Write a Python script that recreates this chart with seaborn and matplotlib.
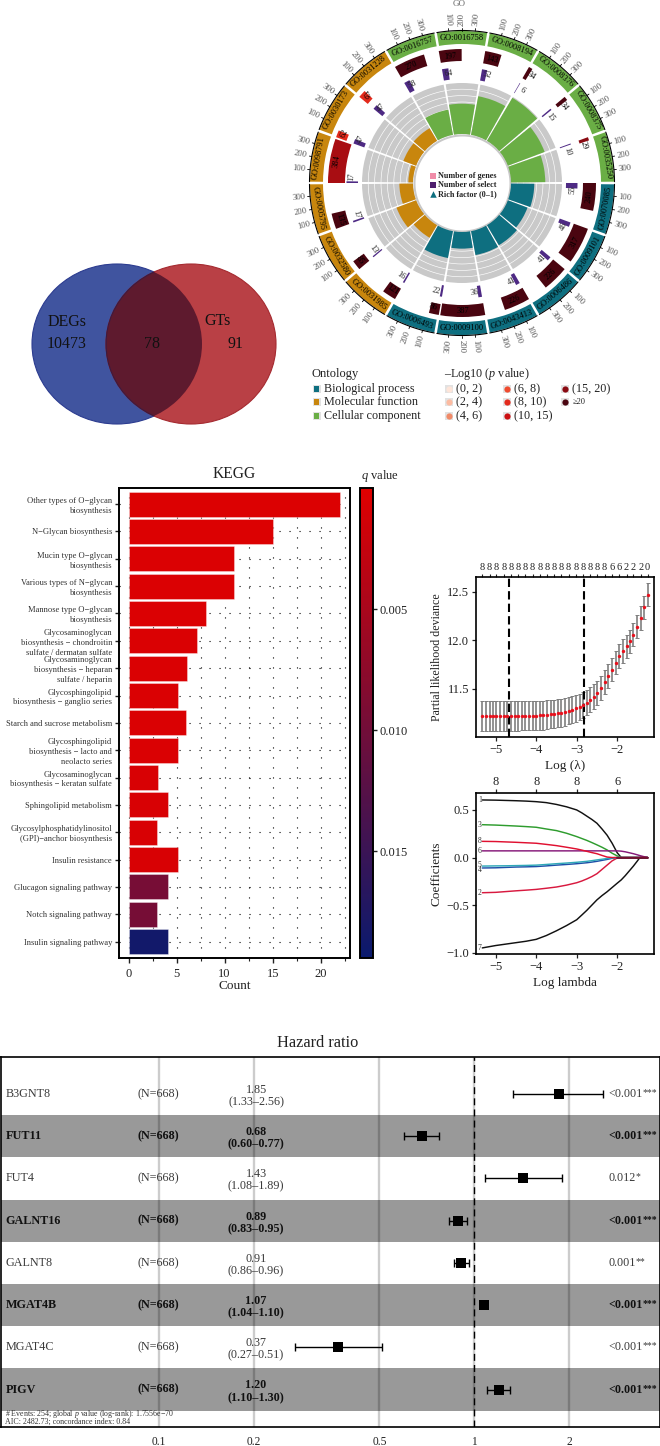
import numpy as np
import pandas as pd
import matplotlib
matplotlib.use("Agg")
import matplotlib.pyplot as plt
import seaborn as sns
from matplotlib.cm import ScalarMappable
from matplotlib.colors import LinearSegmentedColormap, Normalize
from matplotlib.patches import Ellipse, Rectangle
from matplotlib.ticker import NullLocator

W, H = 660, 1446

# circular GO plot, clockwise from the sector left of the top
go_terms = ["GO:0016757", "GO:0016758", "GO:0008194", "GO:0008376", "GO:0008375", "GO:0035250",
            "GO:0070085", "GO:0009101", "GO:0006486", "GO:0043413", "GO:0009100", "GO:0006493",
            "GO:0031985", "GO:0032580", "GO:0005795", "GO:0098791", "GO:0030173", "GO:0031228"]
go_group = ["CC"] * 6 + ["BP"] * 6 + ["MF"] * 6
go_genes = [270, 197, 143, 34, 34, 29, 240, 317, 226, 226, 387, 86, 121, 85, 135, 384, 62, 67]
go_select = [58, 64, 52, 6, 15, 10, 55, 46, 41, 41, 36, 22, 16, 13, 17, 17, 47, 47]
go_rich = [77, 91, 118, 150, 118, 103, 70, 63, 70, 73, 50, 82, 44, 63, 41, 14, 41, 44]
go_depth = [12, 12, 12.5, 13, 12, 10, 13, 15, 15, 13, 12, 11, 12, 13, 14, 17, 11, 11]
go_heat = ["#4a0510", "#4a0510", "#4a0510", "#4a0510", "#4a0510", "#8a0a12", "#4a0510", "#4a0510", "#4a0510",
           "#4a0510", "#4a0510", "#4a0510", "#4a0510", "#4a0510", "#4a0510", "#a80d12", "#e32a1c", "#e32a1c"]
group_cols = {"BP": "#0e6f80", "MF": "#c8860d", "CC": "#6aae45"}
go_ticks = [100, 200, 300]

onto_names = ["Biological process", "Molecular function", "Cellular component"]
logp_names = ["(0, 2)", "(2, 4)", "(4, 6)", "(6, 8)", "(8, 10)", "(10, 15)", "(15, 20)", "≥20"]
logp_cols = ["#fee5d9", "#fcbba1", "#f08a68", "#ef4b2f", "#e32a1c", "#cb0f12", "#8a0a12", "#4a0510"]

# KEGG bars
kegg_terms = ["Other types of O−glycan\nbiosynthesis", "N−Glycan biosynthesis",
              "Mucin type O−glycan\nbiosynthesis", "Various types of N−glycan\nbiosynthesis",
              "Mannose type O−glycan\nbiosynthesis",
              "Glycosaminoglycan\nbiosynthesis − chondroitin\nsulfate / dermatan sulfate",
              "Glycosaminoglycan\nbiosynthesis − heparan\nsulfate / heparin",
              "Glycosphingolipid\nbiosynthesis − ganglio series", "Starch and sucrose metabolism",
              "Glycosphingolipid\nbiosynthesis − lacto and\nneolacto series",
              "Glycosaminoglycan\nbiosynthesis − keratan sulfate", "Sphingolipid metabolism",
              "Glycosylphosphatidylinositol\n(GPI)−anchor biosynthesis", "Insulin resistance",
              "Glucagon signaling pathway", "Notch signaling pathway", "Insulin signaling pathway"]
kegg_count = [22, 15, 11, 11, 8.1, 7.1, 6.1, 5.1, 6, 5.1, 3.1, 4.1, 3, 5.1, 4.1, 3, 4.1]
kegg_q = [0.0004, 0.0004, 0.0005, 0.0005, 0.0005, 0.0006, 0.0006, 0.0006, 0.0006, 0.0006,
          0.0007, 0.0007, 0.0007, 0.0008, 0.0095, 0.0096, 0.0186]

# cross validation curve
cv_x = [-5.33, -5.24, -5.15, -5.07, -4.98, -4.89, -4.80, -4.71, -4.62, -4.53, -4.44, -4.35,
        -4.27, -4.18, -4.09, -4.00, -3.91, -3.82, -3.73, -3.64, -3.55, -3.46, -3.38, -3.29,
        -3.20, -3.11, -3.02, -2.93, -2.84, -2.75, -2.66, -2.58, -2.49, -2.40, -2.31, -2.22,
        -2.13, -2.04, -1.95, -1.86, -1.77, -1.69, -1.60, -1.51, -1.42, -1.33, -1.25]
cv_mean = [11.22, 11.22, 11.22, 11.22, 11.22, 11.22, 11.22, 11.22, 11.22, 11.22, 11.22, 11.225,
           11.225, 11.225, 11.225, 11.225, 11.23, 11.23, 11.235, 11.24, 11.245, 11.25, 11.255, 11.265,
           11.275, 11.285, 11.30, 11.315, 11.335, 11.36, 11.39, 11.42, 11.46, 11.51, 11.57, 11.63,
           11.70, 11.77, 11.84, 11.89, 11.94, 11.99, 12.06, 12.14, 12.23, 12.34, 12.47]
cv_err = [0.153, 0.153, 0.153, 0.153, 0.153, 0.153, 0.153, 0.153, 0.152, 0.152, 0.152, 0.151,
          0.151, 0.150, 0.150, 0.149, 0.149, 0.148, 0.147, 0.146, 0.145, 0.144, 0.143, 0.142,
          0.140, 0.139, 0.137, 0.135, 0.132, 0.130, 0.128, 0.126, 0.125, 0.124, 0.123, 0.122,
          0.122, 0.121, 0.120, 0.120, 0.120, 0.120, 0.120, 0.120, 0.120, 0.120, 0.120]
cv_top = ["8"] * 18 + ["6", "6", "2", "2", "2", "0"]
cv_lambda = [-4.67, -2.82]

# lasso paths
path_x = [-5.33, -5.0, -4.75, -4.5, -4.25, -4.0, -3.75, -3.5, -3.25, -3.0, -2.875, -2.75, -2.625,
          -2.5, -2.375, -2.25, -2.125, -2.0, -1.9, -1.8, -1.7, -1.6, -1.5, -1.44, -1.35, -1.25]
path_1 = [0.605, 0.603, 0.600, 0.597, 0.593, 0.587, 0.577, 0.558, 0.533, 0.50, 0.47, 0.435, 0.40,
          0.36, 0.30, 0.235, 0.15, 0.05, 0.0, 0.0, 0.0, 0.0, 0.0, 0.0, 0.0, 0.0]
path_2 = [-0.37, -0.366, -0.358, -0.35, -0.343, -0.335, -0.323, -0.31, -0.29, -0.265, -0.247, -0.225, -0.20,
          -0.17, -0.125, -0.08, -0.035, -0.005, 0.0, 0.0, 0.0, 0.0, 0.0, 0.0, 0.0, 0.0]
path_3 = [0.345, 0.341, 0.336, 0.331, 0.325, 0.318, 0.30, 0.283, 0.255, 0.22, 0.20, 0.18, 0.157,
          0.133, 0.108, 0.08, 0.045, 0.017, 0.0, 0.0, 0.0, 0.0, 0.0, 0.0, 0.0, 0.0]
path_4 = [-0.11, -0.108, -0.104, -0.10, -0.098, -0.095, -0.088, -0.08, -0.073, -0.065, -0.06, -0.055, -0.048,
          -0.04, -0.03, -0.02, -0.008, 0.0, 0.0, 0.0, 0.0, 0.0, 0.0, 0.0, 0.0, 0.0]
path_5 = [-0.09, -0.088, -0.087, -0.085, -0.083, -0.08, -0.073, -0.065, -0.058, -0.05, -0.045, -0.04, -0.033,
          -0.025, -0.018, -0.01, -0.003, 0.0, 0.0, 0.0, 0.0, 0.0, 0.0, 0.0, 0.0, 0.0]
path_6 = [0.07, 0.07, 0.07, 0.07, 0.07, 0.07, 0.07, 0.07, 0.07, 0.07, 0.07, 0.07, 0.07,
          0.07, 0.07, 0.07, 0.07, 0.07, 0.067, 0.06, 0.05, 0.04, 0.028, 0.02, 0.01, 0.0]
path_7 = [-0.95, -0.925, -0.91, -0.895, -0.88, -0.86, -0.82, -0.77, -0.715, -0.654, -0.605, -0.555, -0.50,
          -0.445, -0.40, -0.36, -0.315, -0.27, -0.235, -0.19, -0.14, -0.09, -0.035, 0.0, 0.0, 0.0]
path_8 = [0.17, 0.168, 0.164, 0.16, 0.155, 0.15, 0.138, 0.125, 0.108, 0.09, 0.078, 0.065, 0.052,
          0.04, 0.022, 0.005, 0.0, 0.0, 0.0, 0.0, 0.0, 0.0, 0.0, 0.0, 0.0, 0.0]
path_cols = ["#111111", "#d8193f", "#2e9c2e", "#1f4fa8", "#2fa8b8", "#86197a", "#111111", "#e01030"]
path_tags = ["1", "2", "3", "4", "5", "6", "7", "8"]

# forest plot
hr_genes = ["B3GNT8", "FUT11", "FUT4", "GALNT16", "GALNT8", "MGAT4B", "MGAT4C", "PIGV"]
hr_val = [1.85, 0.68, 1.43, 0.89, 0.91, 1.07, 0.37, 1.20]
hr_lo = [1.33, 0.60, 1.08, 0.83, 0.86, 1.04, 0.27, 1.10]
hr_hi = [2.56, 0.77, 1.89, 0.95, 0.96, 1.10, 0.51, 1.30]
hr_p = ["<0.001", "<0.001", "0.012", "<0.001", "0.001", "<0.001", "<0.001", "<0.001"]
hr_stars = ["***", "***", "*", "***", "**", "***", "***", "***"]
hr_ticks = [0.1, 0.2, 0.5, 1, 2]


sns.set_theme(style="ticks")
plt.rcParams["font.family"] = ["Liberation Serif", "DejaVu Sans"]
plt.rcParams["mathtext.fontset"] = "custom"
plt.rcParams["mathtext.rm"] = "Liberation Serif"
plt.rcParams["mathtext.it"] = "Liberation Serif:italic"
plt.rcParams["axes.edgecolor"] = "black"
plt.rcParams["text.color"] = "#222222"
plt.rcParams["xtick.color"] = "#222222"
plt.rcParams["ytick.color"] = "#222222"
plt.rcParams["axes.labelcolor"] = "#222222"

fig = plt.figure(figsize=(W / 100, H / 100), dpi=100, facecolor="white")


def px_axes(left, top, right, bottom, **kw):
    return fig.add_axes([left / W, 1 - bottom / H, (right - left) / W, (bottom - top) / H], **kw)


def style(ax, lw=1.4):
    for s in ax.spines.values():
        s.set_visible(True)
        s.set_linewidth(lw)


# ---- circular GO plot
CX, CY, RMAX = 462, 183, 178
pol = px_axes(CX - RMAX, CY - RMAX, CX + RMAX, CY + RMAX, projection="polar")
pol.set_axis_off()
rad = np.deg2rad
DEG_PER_UNIT = 0.05

circle = np.linspace(0, 2 * np.pi, 361)
pol.fill_between(circle, 47, 49, color="#c8c8c8", lw=0)

for i, term in enumerate(go_terms):
    hi = 120 - 20 * i
    col = group_cols[go_group[i]]
    # outer ring and its axis
    pol.bar(rad(hi - 0.5), 13, width=rad(-19), bottom=139, align="edge", color=col, lw=0)
    pol.plot(np.radians(np.linspace(hi - 0.5, hi - 19.5, 30)), [152.5] * 30, color="black", lw=0.8)
    mid = hi - 10
    rot = mid - 90 if 0 <= (mid % 360) <= 180 else mid + 90
    pol.text(rad(mid), 145.5, term, rotation=rot, rotation_mode="anchor", ha="center", va="center",
             fontsize=6, color="black")
    for t in go_ticks:
        a = hi - t * DEG_PER_UNIT
        pol.plot([rad(a), rad(a)], [152.5, 155], color="black", lw=0.6)
        norm_a = (a + 180) % 360 - 180
        trot = norm_a if -90 <= norm_a <= 90 else norm_a + 180
        pol.text(rad(a), 164, str(t), rotation=trot, rotation_mode="anchor", ha="center", va="center",
                 fontsize=6.2, color="#555555")

    # genes
    w = go_genes[i] * DEG_PER_UNIT
    pol.bar(rad(hi - w), go_depth[i], width=rad(w), bottom=134 - go_depth[i], align="edge", color=go_heat[i], lw=0)
    lab = hi - max(w / 2, 3)
    lrot = lab - 90 if 0 <= (lab % 360) <= 180 else lab + 90
    pol.text(rad(lab), 127.5, str(go_genes[i]), rotation=lrot, rotation_mode="anchor", ha="center", va="center",
             fontsize=6, color="black")

    # selected
    w = go_select[i] * DEG_PER_UNIT
    pol.bar(rad(hi - w), 11.5, width=rad(w), bottom=104, align="edge", color="#4e2a84", lw=0)
    lab = hi - 3.3
    lrot = lab - 90 if 0 <= (lab % 360) <= 180 else lab + 90
    pol.text(rad(lab), 110.5, str(go_select[i]), rotation=lrot, rotation_mode="anchor", ha="center", va="center",
             fontsize=6, color="#222222")

    # rich factor background
    pol.bar(rad(hi - 19.4), 51, width=rad(18.8), bottom=49, align="edge", color="#c9c9c9", lw=0, zorder=1)

for r in [55.4, 61.8, 68.2, 74.6, 81, 87.4, 93.8]:
    pol.plot(circle, [r] * 361, color="white", lw=0.45, zorder=1.5)

for i in range(len(go_terms)):
    hi = 120 - 20 * i
    pol.bar(rad(hi - 19.4), go_rich[i] * 0.333, width=rad(18.8), bottom=49, align="edge",
            color=group_cols[go_group[i]], lw=0, zorder=2)
pol.set_rlim(0, RMAX)

# overlay in pixels for venn and legends
ov = fig.add_axes([0, 0, 1, 1], zorder=10)
ov.set_xlim(0, W)
ov.set_ylim(H, 0)
ov.patch.set_alpha(0)
ov.set_axis_off()

ov.text(459, 4.5, "GO", fontsize=6.5, color="#666666", ha="center", va="center")
ov.add_patch(Rectangle((429.7, 172.7), 6, 6, color="#f08ca8", lw=0))
ov.add_patch(Rectangle((429.7, 182), 6, 6, color="#4e1f6e", lw=0))
ov.scatter([432.7], [194.3], marker="^", s=22, color="#0e6f80", lw=0)
for y, s in zip([176, 185, 194.5], ["Number of genes", "Number of select", "Rich factor (0–1)"]):
    ov.text(438, y, s, fontsize=5.9, fontweight="bold", color="#222222", va="center")

ov.text(311, 374, "Ontology", fontsize=9, va="center")
for y, s, key in zip([389, 402, 416], onto_names, ["BP", "MF", "CC"]):
    ov.add_patch(Rectangle((312.5, y - 4), 8, 8, color="#e2e2e2", lw=0))
    ov.add_patch(Rectangle((314, y - 2.7), 5.4, 5.4, color=group_cols[key], lw=0))
    ov.text(324, y, s, fontsize=8.7, va="center")

ov.text(444, 374, r"–Log10 ($\mathit{p}$ value)", fontsize=8.7, va="center")
key_xy = [(449, 389), (449, 402), (449, 416), (507, 389), (507, 402), (507, 416), (565, 389), (565, 402)]
for (x, y), s, c in zip(key_xy, logp_names, logp_cols):
    ov.add_patch(Rectangle((x - 4, y - 4), 8, 8, color="#e2e2e2", lw=0))
    ov.scatter([x], [y], s=20, color=c, lw=0)
    ov.text(x + 7.5, y, s, fontsize=6 if s == "≥20" else 8.7, va="center")

# ---- venn
blue = Ellipse((117, 344), 170, 160, fc="#40549f", ec="#2c3c90", lw=0.8)
red = Ellipse((191, 344), 170, 160, fc="#b94045", ec="#a52a30", lw=0.8)
ov.add_patch(blue)
ov.add_patch(red)
both = Ellipse((191, 344), 170, 160, fc="#5e1a2e", ec="#3a1a40", lw=0.8)
ov.add_patch(both)
both.set_clip_path(Ellipse((117, 344), 170, 160, transform=ov.transData))
for x, y, s in [(67, 322, "DEGs"), (67, 344, "10473"), (152, 344, "78"), (218, 321, "GTs"), (235, 344, "91")]:
    ov.text(x, y, s, fontsize=11.5, ha="center", va="center", color="#111111")

# ---- KEGG
cmap = LinearSegmentedColormap.from_list("q", ["#e00000", "#0a1a6e"])
qnorm = Normalize(0, 0.0194)
kegg_df = pd.DataFrame({"term": kegg_terms, "count": kegg_count})
ax = px_axes(119, 488, 350, 958)
sns.barplot(data=kegg_df, x="count", y="term", hue="term", palette=[cmap(qnorm(q)) for q in kegg_q],
            legend=False, width=0.92, dodge=False, saturation=1, edgecolor=(1, 1, 1, 0.35), linewidth=0.7, ax=ax)
ax.set_xlim(-1.0, 23.05)
ax.set_ylim(16.6, -0.59)
ax.set_xticks([0, 5, 10, 15, 20])
ax.set_xticks([2.5, 7.5, 12.5, 17.5, 22.5], minor=True)
ax.set_axisbelow(True)
ax.grid(True, which="both", axis="x", color="black", lw=0.8, ls=(0, (1, 8)))
ax.grid(True, which="major", axis="y", color="black", lw=0.8, ls=(0, (1, 8)))
style(ax)
ax.tick_params(axis="x", which="major", labelsize=9, length=3.5, width=1, pad=3.5)
ax.tick_params(axis="x", which="minor", length=2, width=0.8)
ax.tick_params(axis="y", labelsize=6.15, length=3, width=1, pad=2, labelcolor="#333333")
for lb in ax.get_yticklabels():
    lb.set_linespacing(1.32)
ax.set_ylabel("")
ax.set_xlabel("Count", fontsize=9.5, labelpad=0.5)
ov.text(234, 474, "KEGG", fontsize=11.2, ha="center", va="center")

cax = px_axes(360, 488, 373, 958)
cb = fig.colorbar(ScalarMappable(norm=qnorm, cmap=cmap), cax=cax)
cax.invert_yaxis()
cb.set_ticks([0.005, 0.010, 0.015], labels=["0.005", "0.010", "0.015"])
cb.outline.set_linewidth(1.4)
cb.outline.set_edgecolor("black")
cax.tick_params(labelsize=9, length=3, width=1, pad=2)
ov.text(361, 476, r"$\mathit{q}$ value", fontsize=9, va="center")

# ---- deviance
ax = px_axes(476, 577.3, 654.3, 737)
cv_df = pd.DataFrame({"x": cv_x, "y": cv_mean})
ax.errorbar(cv_x, cv_mean, yerr=cv_err, fmt="none", ecolor="#7f7f7f", elinewidth=1.2, capsize=1.6, capthick=0.7)
sns.scatterplot(data=cv_df, x="x", y="y", color="#e8101c", s=6, lw=0, zorder=3, ax=ax)
for v in cv_lambda:
    ax.axvline(v, color="black", lw=1.5, ls=(0, (4, 2)))
ax.set_xlim(-5.486, -1.084)
ax.set_ylim(11.005, 12.65)
ax.set_xticks([-5, -4, -3, -2])
ax.set_yticks([11.5, 12.0, 12.5])
style(ax, 1.2)
ax.tick_params(labelsize=9, length=3, width=0.9, pad=2)
ax.set_xlabel("Log (λ)", fontsize=9.5, labelpad=3)
ax.set_ylabel("Partial likelihood deviance", fontsize=8.6, labelpad=3)
top = ax.secondary_xaxis("top")
top.set_xticks(cv_x[::2], labels=cv_top)
top.tick_params(labelsize=7.5, length=2.5, width=0.8, pad=1)
top.spines["top"].set_visible(False)

# ---- lasso paths
ax = px_axes(476, 793.3, 654.3, 954)
path_df = pd.DataFrame({"x": path_x, "1": path_1, "2": path_2, "3": path_3, "4": path_4,
                        "5": path_5, "6": path_6, "7": path_7, "8": path_8})
path_long = path_df.melt(id_vars="x", var_name="gene", value_name="coef")
sns.lineplot(data=path_long, x="x", y="coef", hue="gene", hue_order=path_tags, palette=path_cols,
             estimator=None, lw=1.05, legend=False, ax=ax)
ax.plot([-2.0, -1.25], [0, 0], color="#6a1030", lw=1.3)
for tag, series in zip(path_tags, [path_1, path_2, path_3, path_4, path_5, path_6, path_7, path_8]):
    nudge = {"4": -0.025, "5": 0.015}.get(tag, 0)
    ax.text(-5.39, series[0] + nudge, tag, fontsize=5.5, color="#333333", ha="center", va="center")
ax.set_xlim(-5.486, -1.084)
ax.set_ylim(-1.014, 0.675)
ax.set_xticks([-5, -4, -3, -2])
ax.set_yticks([-1.0, -0.5, 0.0, 0.5])
style(ax, 1.2)
ax.tick_params(labelsize=9, length=3, width=0.9, pad=2)
ax.set_xlabel("Log lambda", fontsize=9.5, labelpad=3)
ax.set_ylabel("Coefficients", fontsize=9.5, labelpad=3)
top = ax.secondary_xaxis("top")
top.set_xticks([-5, -4, -3, -2], labels=["8", "8", "8", "6"])
top.tick_params(labelsize=9, length=3, width=0.9, pad=1)
top.spines["top"].set_visible(False)

# ---- forest
ax = px_axes(0.5, 1057, 659.5, 1426.7)
rows = list(range(len(hr_genes)))
ax.set_xscale("log")
for r in rows[1::2]:
    ax.axhspan(r - 0.5, r + 0.5, color="#999999", lw=0, zorder=0)
for t in hr_ticks:
    ax.axvline(t, color="black", alpha=0.2, lw=1.7, zorder=1)
ax.axvline(1, color="black", lw=1, ls=(0, (5, 3)), zorder=2)
hr_arr = np.array(hr_val)
ax.errorbar(hr_val, rows, xerr=[hr_arr - np.array(hr_lo), np.array(hr_hi) - hr_arr], fmt="none",
            ecolor="black", elinewidth=1, capsize=2.6, capthick=1, zorder=3)
sns.scatterplot(x=hr_val, y=rows, marker="s", s=52, color="black", lw=0, zorder=4, ax=ax)
ax.set_xlim(0.0315, 3.86)
ax.set_ylim(7.88, -0.877)
ax.set_xticks(hr_ticks, labels=[str(t) for t in hr_ticks])
ax.xaxis.set_minor_locator(NullLocator())
ax.set_yticks([])
style(ax, 1.2)
ax.tick_params(axis="x", labelsize=8.3, length=0, pad=7)
tr = ax.get_yaxis_transform()
for r in rows:
    fw = "bold" if r % 2 else "normal"
    col = "#111111" if r % 2 else "#3a3a3a"
    ax.text(5 / 660, r, hr_genes[r], transform=tr, fontsize=8.7, fontweight=fw, color=col, va="center")
    ax.text(158 / 660, r, "(N=668)", transform=tr, fontsize=8.7, fontweight=fw, color=col, va="center", ha="center")
    ax.text(256 / 660, r + 0.05, f"{hr_val[r]:.2f}\n({hr_lo[r]:.2f}–{hr_hi[r]:.2f})", transform=tr, fontsize=8.7,
            fontweight=fw, color=col, va="center", ha="center", linespacing=1.05)
    pt = ax.text(609 / 660, r, hr_p[r], transform=tr, fontsize=8.7, fontweight=fw, color=col, va="center")
    ax.annotate(hr_stars[r], xy=(1, 0.62), xycoords=pt, fontsize=7, fontweight=fw, color=col, va="center")
ax.text(5 / 660, 7.58, r"# Events: 254; global $\mathit{p}$ value (log-rank): 1.7556e−70", transform=tr,
        fontsize=5.7, color="#333333", va="center")
ax.text(5 / 660, 7.77, "AIC: 2482.73; concordance index: 0.84", transform=tr, fontsize=5.7, color="#333333", va="center")
ov.text(318, 1043, "Hazard ratio", fontsize=11.8, ha="center", va="center")

fig.savefig("out.png", dpi=100)
